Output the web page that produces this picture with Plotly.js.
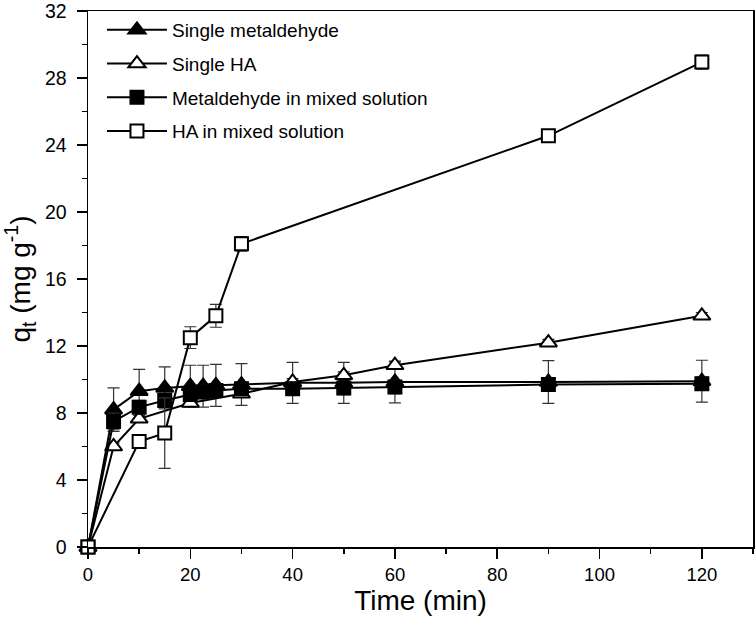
<!DOCTYPE html>
<html>
<head>
<meta charset="utf-8">
<script src="https://cdn.plot.ly/plotly-3.0.1.min.js"></script>
<style>html,body{margin:0;padding:0;background:#fff;}#chart{width:756px;height:635px;}</style>
</head>
<body>
<div id="chart"></div>
<script>
// Data
const seriesNames = ["Single metaldehyde", "Single HA", "Metaldehyde in mixed solution", "HA in mixed solution"];

const timeSingleMet = [0, 5, 10, 15, 20, 22.5, 25, 30, 40, 50, 60, 90, 120];
const qSingleMet    = [0, 8.2, 9.3, 9.5, 9.6, 9.6, 9.65, 9.7, 9.8, 9.8, 9.85, 9.85, 9.9];
const errSingleMet  = [0, 1.3, 1.3, 1.25, 1.25, 1.25, 1.25, 1.25, 1.22, 1.22, 1.25, 1.28, 1.25];

const timeSingleHA = [0, 5, 10, 20, 30, 40, 50, 60, 90, 120];
const qSingleHA    = [0, 6.0, 7.65, 8.6, 9.15, 9.85, 10.25, 10.85, 12.2, 13.8];
const errSingleHA  = [0, 0.2, 0.2, 0.2, 0.2, 0.2, 0.2, 0.2, 0.2, 0.2];

const timeMixedMet = [0, 5, 10, 15, 20, 22.5, 25, 30, 40, 50, 60, 90, 120];
const qMixedMet    = [0, 7.5, 8.35, 8.75, 9.1, 9.25, 9.35, 9.45, 9.45, 9.5, 9.55, 9.7, 9.75];
const errMixedMet  = [0, 0.5, 0.4, 0.4, 0.4, 0.4, 0.4, 0.4, 0.4, 0.4, 0.4, 0.4, 0.4];

const timeMixedHA = [0, 10, 15, 20, 25, 30, 90, 120];
const qMixedHA    = [0, 6.3, 6.8, 12.5, 13.8, 18.1, 24.55, 28.95];
const errMixedHA  = [0, 0.3, 2.1, 0.65, 0.68, 0.43, 0.2, 0.42];

const xTickVals = [0, 20, 40, 60, 80, 100, 120];
const yTickVals = [0, 4, 8, 12, 16, 20, 24, 28, 32];

const FONT = "Liberation Sans, Arial, sans-serif";

function mk(name, x, y, err, symbol, fill, size, group) {
  return {
    type: "scatter", mode: "lines+markers", name: name, x: x, y: y,
    legendgroup: group, cliponaxis: false,
    line: {color: "#000", width: 2},
    marker: {symbol: symbol, size: size, color: fill, line: {color: "#000", width: 2}},
    error_y: {type: "data", array: err, visible: true, color: "#333", thickness: 1.2, width: 6}
  };
}

const traces = [
  mk(seriesNames[0], timeSingleMet, qSingleMet, errSingleMet, "triangle-up", "#000", 15, "a"),
  mk(seriesNames[1], timeSingleHA, qSingleHA, errSingleHA, "triangle-up", "#fff", 15, "b"),
  mk(seriesNames[2], timeMixedMet, qMixedMet, errMixedMet, "square", "#000", 13, "c"),
  mk(seriesNames[3], timeMixedHA, qMixedHA, errMixedHA, "square", "#fff", 13, "d")
];

const layout = {
  width: 756, height: 635,
  margin: {l: 88, r: 3, t: 11, b: 88},
  paper_bgcolor: "#fff", plot_bgcolor: "#fff",
  font: {family: FONT, color: "#000", size: 18},
  showlegend: true,
  legend: {
    x: 0.021, y: 1.0, xanchor: "left", yanchor: "top",
    bgcolor: "rgba(0,0,0,0)", borderwidth: 0,
    font: {family: FONT, size: 19, color: "#000"},
    traceorder: "grouped", tracegroupgap: 6,
    itemwidth: 60
  },
  xaxis: {
    range: [0, 130], tickvals: xTickVals, ticks: "outside", ticklen: 10, tickwidth: 1.5, tickcolor: "#000",
    showgrid: false, zeroline: false, showline: true, linecolor: "#000", linewidth: 1.5, mirror: true,
    tickfont: {family: FONT, size: 18.5}, ticklabeloverflow: "allow",
    minor: {dtick: 10, ticks: "outside", ticklen: 5, tickwidth: 1.5, tickcolor: "#000", showgrid: false},
    title: {text: "Time (min)", font: {family: FONT, size: 28}, standoff: 6}
  },
  yaxis: {
    range: [0, 32], tickvals: yTickVals, ticks: "outside", ticklen: 10, tickwidth: 1.5, tickcolor: "#000",
    showgrid: false, zeroline: false, showline: true, linecolor: "#000", linewidth: 1.5, mirror: true,
    tickfont: {family: FONT, size: 19.5}, ticklabelstandoff: 6, ticklabeloverflow: "allow",
    minor: {dtick: 2, ticks: "outside", ticklen: 5, tickwidth: 1.5, tickcolor: "#000", showgrid: false},
    title: {text: "q<sub>t</sub> (mg g<sup>-1</sup>)", font: {family: FONT, size: 28}, standoff: 8}
  }
};

Plotly.newPlot("chart", traces, layout, {displayModeBar: false, staticPlot: true});
</script>
</body>
</html>
